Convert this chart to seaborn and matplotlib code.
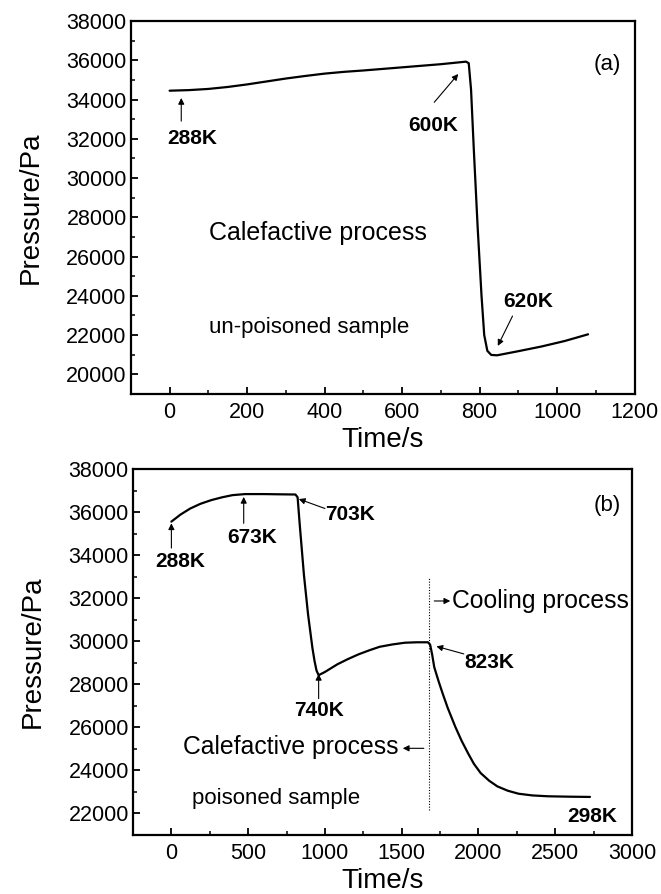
import matplotlib
matplotlib.use("Agg")
import matplotlib.pyplot as plt
import seaborn as sns
import pandas as pd
import numpy as np

# ---- data: panel (a) un-poisoned sample ----
time_a = [0, 50, 100, 150, 200, 250, 300, 350, 400, 450, 500, 550, 600, 650, 700, 740, 765, 772,
          778, 785, 795, 805, 812, 820, 830, 845, 900, 960, 1020, 1080]
pres_a = [34450, 34480, 34540, 34640, 34770, 34920, 35070, 35200, 35320, 35410, 35480, 35560, 35640,
          35720, 35800, 35880, 35930, 35850, 34500, 31500, 27500, 24000, 22000, 21200, 20990, 20970,
          21180, 21420, 21700, 22040]

# ---- data: panel (b) poisoned sample ----
time_b = [0, 60, 123, 190, 260, 330, 397, 480, 600, 700, 808, 822, 836, 863, 890, 918, 932, 945, 959,
          1000, 1082, 1150, 1219, 1290, 1356, 1440, 1521, 1600, 1671, 1685, 1698, 1712, 1740, 1767,
          1800, 1849, 1890, 1932, 1970, 2014, 2070, 2123, 2190, 2260, 2350, 2452, 2600, 2726]
pres_b = [35570, 35900, 36180, 36400, 36570, 36700, 36800, 36850, 36850, 36840, 36830, 36700, 35420,
          33110, 31260, 29720, 29100, 28650, 28430, 28580, 28940, 29180, 29400, 29590, 29750, 29860,
          29940, 29960, 29960, 29850, 29400, 28800, 28150, 27570, 26900, 26030, 25380, 24800, 24310,
          23880, 23520, 23260, 23060, 22920, 22840, 22800, 22780, 22770]

xticks_a = [0, 200, 400, 600, 800, 1000, 1200]
yticks_a = [20000, 22000, 24000, 26000, 28000, 30000, 32000, 34000, 36000, 38000]
xticks_b = [0, 500, 1000, 1500, 2000, 2500, 3000]
yticks_b = [22000, 24000, 26000, 28000, 30000, 32000, 34000, 36000, 38000]

df_a = pd.DataFrame({"Time": time_a, "Pressure": pres_a})
df_b = pd.DataFrame({"Time": time_b, "Pressure": pres_b})

sns.set_theme(style="ticks")
plt.rcParams["font.family"] = ["Liberation Sans", "DejaVu Sans"]
plt.rcParams.update({
    "xtick.direction": "in", "ytick.direction": "in",
    "xtick.major.size": 5, "ytick.major.size": 5,
    "xtick.minor.size": 3, "ytick.minor.size": 3,
    "xtick.major.width": 1.3, "ytick.major.width": 1.3,
    "xtick.minor.width": 1.1, "ytick.minor.width": 1.1,
    "xtick.major.pad": 6, "ytick.major.pad": 3,
    "axes.linewidth": 1.6, "axes.edgecolor": "black",
    "xtick.color": "black", "ytick.color": "black",
    "text.color": "black", "axes.labelcolor": "black",
})

fig = plt.figure(figsize=(6.61, 8.94), dpi=100)
ax1 = fig.add_axes([0.198, 0.5593, 0.762, 0.4172])
ax2 = fig.add_axes([0.2012, 0.066, 0.755, 0.409])

TICK_FS = 15.5
LABEL_FS = 20
ANN_FS = 15
BIG_FS = 18
SMALL_FS = 16
arrow = dict(arrowstyle="-|>", lw=0.8, color="black", mutation_scale=9, shrinkA=0, shrinkB=0)


def style_axes(ax, xlim, ylim, xt, yt, xminor, yminor):
    ax.set_xlim(*xlim)
    ax.set_ylim(*ylim)
    ax.set_xticks(xt)
    ax.set_xticks(xminor, minor=True)
    ax.set_yticks(yt)
    ax.set_yticks(yminor, minor=True)
    ax.set_xticklabels([str(v) for v in xt])
    ax.set_yticklabels([str(v) for v in yt])
    ax.tick_params(labelsize=TICK_FS, top=False, right=False, which="both")
    ax.set_xlabel("Time/s", fontsize=LABEL_FS, labelpad=3)
    ax.set_ylabel("Pressure/Pa", fontsize=LABEL_FS, labelpad=16)


# ---------- panel (a) ----------
sns.lineplot(data=df_a, x="Time", y="Pressure", ax=ax1, color="black", lw=1.6, sort=False)
style_axes(ax1, (-100, 1200), (19000, 38000), xticks_a, yticks_a,
           np.arange(-100, 1201, 100), np.arange(19000, 38001, 1000))

ax1.annotate("", xy=(30, 34080), xytext=(30, 32900), arrowprops=arrow)
ax1.text(58, 32000, "288K", fontsize=ANN_FS, fontweight="bold", ha="center", va="center")
ax1.annotate("", xy=(745, 35300), xytext=(683, 33860), arrowprops=arrow)
ax1.text(680, 32680, "600K", fontsize=ANN_FS, fontweight="bold", ha="center", va="center")
ax1.annotate("", xy=(847, 21450), xytext=(885, 22970), arrowprops=arrow)
ax1.text(925, 23730, "620K", fontsize=ANN_FS, fontweight="bold", ha="center", va="center")
ax1.text(1130, 35800, "(a)", fontsize=16, ha="center", va="center")
ax1.text(101, 27190, "Calefactive process", fontsize=BIG_FS, ha="left", va="center")
ax1.text(101, 22375, "un-poisoned sample", fontsize=SMALL_FS, ha="left", va="center")

# ---------- panel (b) ----------
sns.lineplot(data=df_b, x="Time", y="Pressure", ax=ax2, color="black", lw=1.6, sort=False)
style_axes(ax2, (-250, 3000), (21000, 38000), xticks_b, yticks_b,
           np.arange(-250, 3001, 250), np.arange(21000, 38001, 1000))

ax2.plot([1680, 1680], [22150, 32950], ls=(0, (1, 1.5)), lw=0.8, color="black")

ax2.annotate("", xy=(0, 35490), xytext=(0, 34340), arrowprops=arrow)
ax2.text(55, 33720, "288K", fontsize=ANN_FS, fontweight="bold", ha="center", va="center")
ax2.annotate("", xy=(471, 36720), xytext=(471, 35490), arrowprops=arrow)
ax2.text(529, 34850, "673K", fontsize=ANN_FS, fontweight="bold", ha="center", va="center")
ax2.annotate("", xy=(830, 36620), xytext=(1000, 36180), arrowprops=arrow)
ax2.text(1164, 35880, "703K", fontsize=ANN_FS, fontweight="bold", ha="center", va="center")
ax2.annotate("", xy=(959, 28490), xytext=(959, 27340), arrowprops=arrow)
ax2.text(959, 26800, "740K", fontsize=ANN_FS, fontweight="bold", ha="center", va="center")
ax2.annotate("", xy=(1726, 29770), xytext=(1904, 29420), arrowprops=arrow)
ax2.text(2068, 29030, "823K", fontsize=ANN_FS, fontweight="bold", ha="center", va="center")
ax2.text(2740, 21880, "298K", fontsize=ANN_FS, fontweight="bold", ha="center", va="center")
ax2.text(2836, 36340, "(b)", fontsize=16, ha="center", va="center")

ax2.annotate("", xy=(1816, 31880), xytext=(1712, 31880), arrowprops=arrow)
ax2.text(1830, 31880, "Cooling process", fontsize=17.8, ha="left", va="center")
ax2.annotate("", xy=(1507, 25030), xytext=(1644, 25030), arrowprops=arrow)
ax2.text(1479, 25110, "Calefactive process", fontsize=17.8, ha="right", va="center")
ax2.text(137, 22720, "poisoned sample", fontsize=SMALL_FS, ha="left", va="center")

fig.savefig("out.png", dpi=100)
